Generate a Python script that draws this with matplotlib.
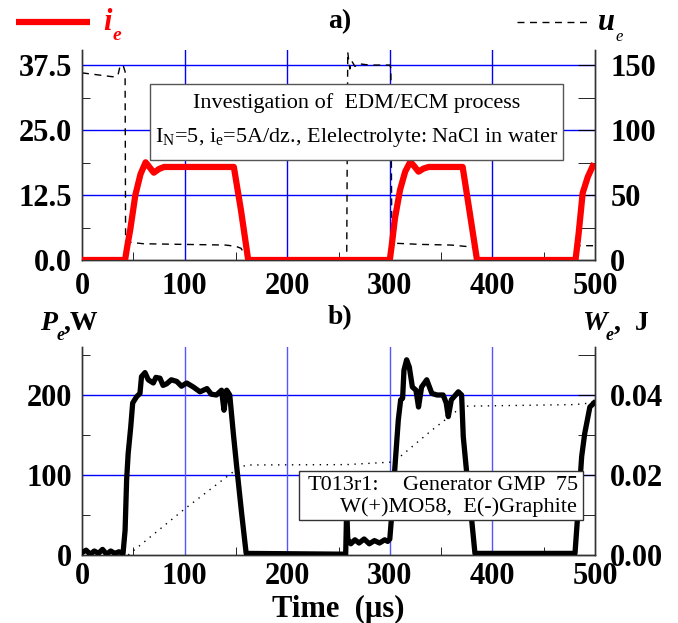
import matplotlib
matplotlib.use("Agg")
import matplotlib.pyplot as plt
from matplotlib.lines import Line2D
from matplotlib.patches import Rectangle
from matplotlib.ticker import MultipleLocator, FormatStrFormatter

# ---- panel a) current i_e (A) and voltage u_e (V) ----
t_i = [0, 42, 44, 47, 52, 57, 62, 66, 70, 75, 80, 148, 155, 162,
       300, 302, 305, 310, 315, 320, 324, 328, 333, 338, 371, 378, 385,
       481, 484, 488, 493, 499]
i_e = [0, 0, 2.5, 5.8, 12.5, 16.5, 18.8, 17.8, 16.8, 17.5, 17.9, 17.9, 9.5, 0,
       0, 3, 8, 13.5, 17, 18.9, 18, 17.0, 17.6, 17.9, 17.9, 9, 0,
       0, 5, 12.9, 16, 18.6]

t_u = [0, 30, 35, 37, 40, 42, 42.5, 60, 100, 140, 150, 155, 162,
       258, 259, 261, 263, 266, 270, 280, 290, 300, 301, 302,
       330, 360, 380, 385, 386, 481, 482, 500]
u_e = [144, 141, 142, 149, 150, 145, 14, 12.5, 12, 11.5, 10.5, 9, 0,
       0, 160, 147, 153, 149, 151, 150, 150, 150, 148, 13,
       12, 11.5, 10, 8, 0, 0, 11, 11]

# ---- panel b) power P_e (W) and energy W_e (J) ----
t_p = [0, 4, 8, 12, 16, 20, 24, 28, 32, 36, 40, 42, 43.5, 45, 47.5, 49.4, 53.3,
       56.5, 58, 61.4, 64.6, 69.5, 72, 76, 79, 82.5, 87, 92.3, 97, 102, 108.5,
       115, 121.8, 126, 131, 136, 138.4, 141, 144, 147.5, 150.8, 155.6, 160,
       257, 258, 259, 262, 266, 270, 275, 280, 285, 290, 295, 298,
       300, 302, 305, 308.3, 310.6, 312.5, 313.8, 316.4, 319, 322, 325.5, 328,
       331, 336, 341, 346, 352, 355, 357, 360, 366.8, 370, 371.6, 375, 379.8, 383,
       480.5, 483.7, 487, 490, 495, 499]
p_e = [3, 6, 1, 5, 2, 7, 1, 5, 2, 4, 2, 31, 94, 127, 160, 190, 198,
       202, 223, 228, 219, 215, 222, 221, 212, 214, 219, 217, 211, 215, 210,
       204, 208, 201, 200, 206, 181, 206, 200, 152, 110, 52, 2,
       1, 60, 20, 14, 19, 15, 20, 14, 18, 15, 19, 17,
       20, 52, 110, 169, 194, 196, 231, 244, 235, 210, 206, 185,
       210, 219, 202, 200, 200, 190, 173, 194, 204, 200, 148, 102, 44, 2,
       2, 60, 123, 152, 185, 190]

t_w = [45, 100, 150, 160, 258, 300, 305, 340, 365, 372, 480, 492, 500]
w_e = [0, 0.0115, 0.0213, 0.0225, 0.0226, 0.0232, 0.0235, 0.031, 0.036, 0.0372,
       0.0376, 0.0379, 0.0386]

x_ticks = [0, 100, 200, 300, 400, 500]

plt.rcParams['font.family'] = ['Liberation Serif', 'DejaVu Serif']
plt.rcParams['mathtext.fontset'] = 'custom'
plt.rcParams['mathtext.rm'] = 'Liberation Serif'
plt.rcParams['mathtext.it'] = 'Liberation Serif:italic'

BLUE = '#0000ff'
TICK_FS = 22
W, H = 678.0, 623.0

fig = plt.figure(figsize=(6.78, 6.23), dpi=100)


def style_axes(ax, ax2, xpad):
    for a in (ax, ax2):
        a.spines['top'].set_visible(False)
        for s in ('left', 'right', 'bottom'):
            a.spines[s].set_color('#333333')
            a.spines[s].set_linewidth(1.0)
    ax.set_xlim(0, 500)
    ax.set_xticks(x_ticks)
    ax.xaxis.set_minor_locator(MultipleLocator(50))
    ax.tick_params(axis='both', which='both', direction='in', labelsize=TICK_FS)
    ax.tick_params(axis='x', which='major', length=0, pad=xpad)
    ax.tick_params(axis='x', which='minor', length=6)
    ax.tick_params(axis='y', which='major', length=0, pad=7)
    ax.tick_params(axis='y', which='minor', length=6)
    ax2.tick_params(axis='y', which='both', direction='in', labelsize=TICK_FS)
    ax2.tick_params(axis='y', which='major', length=12, pad=11)
    ax2.tick_params(axis='y', which='minor', length=12)
    for lab in ax.get_xticklabels() + ax.get_yticklabels() + ax2.get_yticklabels():
        lab.set_fontweight('bold')


# ---------------- panel a) ----------------
ax1 = fig.add_axes([82 / W, 1 - 260 / H, 513 / W, 210 / H])
ax1b = ax1.twinx()
ax1.set_ylim(0, 40.4)
ax1b.set_ylim(0, 161.6)
ax1.set_yticks([0, 12.5, 25, 37.5])
ax1.yaxis.set_major_formatter(FormatStrFormatter('%.1f'))
ax1.yaxis.set_minor_locator(MultipleLocator(6.25))
ax1b.set_yticks([0, 50, 100, 150])
ax1b.yaxis.set_minor_locator(MultipleLocator(25))
for yv in [12.5, 25, 37.5]:
    ax1.axhline(yv, color=BLUE, lw=1.0, zorder=0)
for xv in [100, 200, 300, 400]:
    ax1.axvline(xv, color=BLUE, lw=1.0, zorder=0)
style_axes(ax1, ax1b, 9)

ax1b.plot(t_u, u_e, color='black', lw=1.0, ls=(0, (5, 4)), zorder=2)
ax1b.plot(t_i, [v * 4 for v in i_e], color='#ff0000', lw=4.5,
          solid_capstyle='butt', zorder=3)

# info box
ax1b.add_patch(Rectangle((68 / 513, 0.476), 413 / 513, 0.362, transform=ax1.transAxes,
                         facecolor='white', edgecolor='#555555', lw=1.0, zorder=5))
ax1b.text(0.536, 0.748, 'Investigation of  EDM/ECM process', transform=ax1.transAxes,
          ha='center', va='center', fontsize=16, zorder=6)
ax1b.text(0.536, 0.585, 'I$_\\mathrm{N}$=5, i$_\\mathrm{e}$=5A/dz., Elelectrolyte: NaCl in water',
          transform=ax1.transAxes, ha='center', va='center', fontsize=16, zorder=6)

# ---------------- panel b) ----------------
ax2 = fig.add_axes([82 / W, 1 - 555 / H, 513 / W, 208 / H])
ax2b = ax2.twinx()
ax2.set_ylim(0, 260)
ax2b.set_ylim(0, 0.052)
ax2.set_yticks([0, 100, 200])
ax2.yaxis.set_minor_locator(MultipleLocator(50))
ax2b.set_yticks([0, 0.02, 0.04])
ax2b.yaxis.set_major_formatter(FormatStrFormatter('%.2f'))
ax2b.yaxis.set_minor_locator(MultipleLocator(0.01))
for yv in [100, 200]:
    ax2.axhline(yv, color=BLUE, lw=1.0, zorder=0)
for xv in [100, 200, 300, 400]:
    ax2.axvline(xv, color='#5555ff', lw=1.0, zorder=0)
style_axes(ax2, ax2b, 5)

ax2b.plot(t_w, w_e, color='black', lw=1.0, ls=(0, (1, 4)), zorder=2)
ax2b.plot(t_p, [v * 0.0002 for v in p_e], color='black', lw=3.8, zorder=3)

ax2b.add_patch(Rectangle((217 / 513, 35 / 208), 284 / 513, 49 / 208, transform=ax2.transAxes,
                         facecolor='white', edgecolor='#333333', lw=1.0, zorder=5))
ax2b.text(226 / 513, 70 / 208, 'T013r1:', transform=ax2.transAxes,
          ha='left', va='center', fontsize=16, zorder=6)
ax2b.text(496 / 513, 70 / 208, 'Generator GMP  75', transform=ax2.transAxes,
          ha='right', va='center', fontsize=16, zorder=6)
ax2b.text(495 / 513, 48 / 208, 'W(+)MO58,  E(-)Graphite', transform=ax2.transAxes,
          ha='right', va='center', fontsize=16, zorder=6)

fig.text(338 / W, 1 - 609 / H, 'Time  (\u00b5s)', fontsize=22, fontweight='bold',
         ha='center', va='center')

# ---------------- header / axis titles ----------------
fig.add_artist(Line2D([16 / W, 90 / W], [1 - 22 / H, 1 - 22 / H],
                      color='#ff0000', lw=4.5, solid_capstyle='butt'))
fig.text(103 / W, 1 - 22 / H, 'i', color='#ff0000', fontsize=22,
         fontweight='bold', style='italic', ha='left', va='center')
fig.text(113 / W, 1 - 35 / H, 'e', color='#ff0000', fontsize=14,
         fontweight='bold', style='italic', ha='left', va='center')
fig.text(340 / W, 1 - 22 / H, 'a)', fontsize=20, fontweight='bold',
         ha='center', va='center')
fig.add_artist(Line2D([517 / W, 590 / W], [1 - 22 / H, 1 - 22 / H],
                      color='black', lw=1.0, ls=(0, (5, 4))))
fig.text(598 / W, 1 - 22 / H, 'u', fontsize=22, fontweight='bold',
         style='italic', ha='left', va='center')
fig.text(615 / W, 1 - 37 / H, 'e', fontsize=12, style='italic',
         ha='left', va='center')

fig.text(340 / W, 1 - 318 / H, 'b)', fontsize=20, fontweight='bold',
         ha='center', va='center')
fig.text(40 / W, 1 - 323 / H, 'P', fontsize=20, fontweight='bold',
         style='italic', ha='left', va='center')
fig.text(57 / W, 1 - 335 / H, 'e', fontsize=13, fontweight='bold',
         style='italic', ha='left', va='center')
fig.text(64 / W, 1 - 323 / H, ',W', fontsize=20, fontweight='bold',
         ha='left', va='center')
fig.text(582 / W, 1 - 323 / H, 'W', fontsize=20, fontweight='bold',
         style='italic', ha='left', va='center')
fig.text(606 / W, 1 - 335 / H, 'e', fontsize=13, fontweight='bold',
         style='italic', ha='left', va='center')
fig.text(614 / W, 1 - 323 / H, ',  J', fontsize=20, fontweight='bold',
         ha='left', va='center')

fig.savefig('out.png', dpi=100)
